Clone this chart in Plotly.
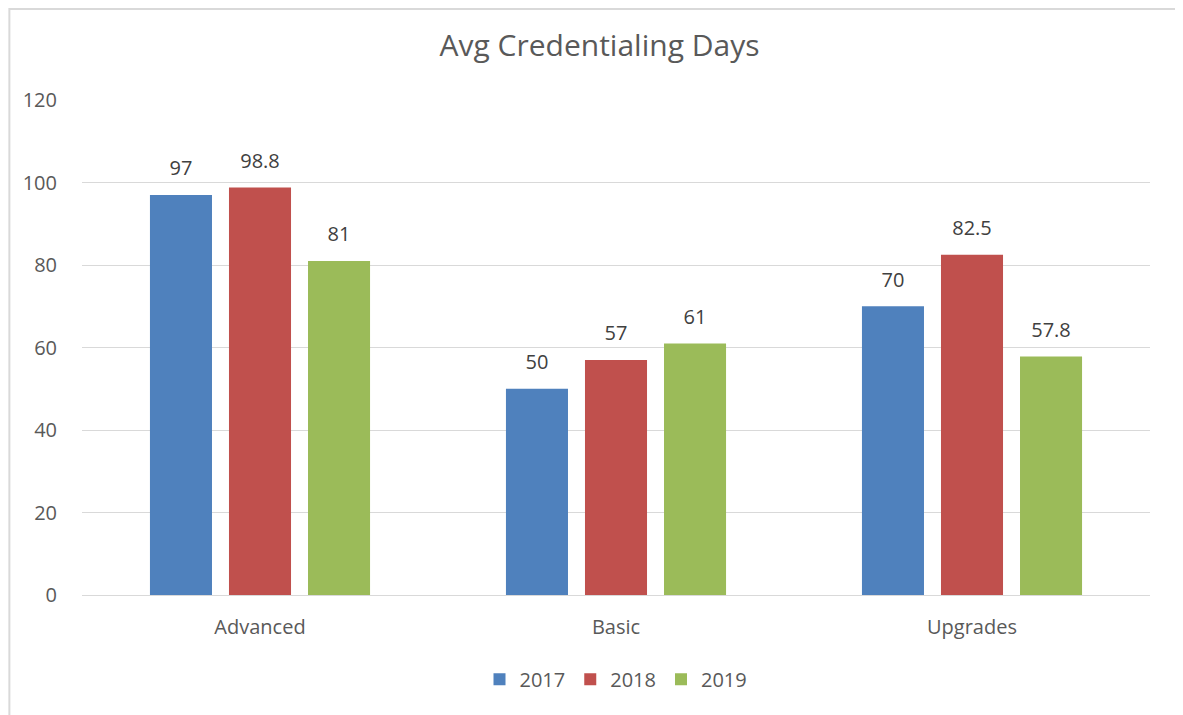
import plotly.graph_objects as go

# Data
categories = ["Advanced", "Basic", "Upgrades"]
years = ["2017", "2018", "2019"]
values_2017 = [97, 50, 70]
values_2018 = [98.8, 57, 82.5]
values_2019 = [81, 61, 57.8]
colors = ["#4F81BD", "#C0504D", "#9BBB59"]

series = [values_2017, values_2018, values_2019]

fig = go.Figure()
for year, vals, color in zip(years, series, colors):
    fig.add_trace(go.Bar(
        x=categories,
        y=vals,
        name=year,
        marker=dict(color=color, line=dict(width=0)),
    ))

# data labels as grouped scatter text so they sit a bit higher above the bars
for year, vals in zip(years, series):
    fig.add_trace(go.Scatter(
        x=categories,
        y=vals,
        mode="markers+text",
        marker=dict(size=22, opacity=0),
        text=[f"{v:g}" for v in vals],
        textposition="top center",
        textfont=dict(size=20, color="#404040"),
        showlegend=False,
        hoverinfo="skip",
        cliponaxis=False,
    ))

# page body has an 8px margin, so margins are shifted to compensate
fig.update_layout(
    title=dict(text="Avg Credentialing Days", x=0.5, xanchor="center", y=0.948,
               yanchor="middle", font=dict(size=30, color="#595959")),
    font=dict(family="Open Sans, Liberation Sans, sans-serif", color="#595959"),
    width=1183,
    height=715,
    margin=dict(l=74, r=41, t=92, b=128),
    plot_bgcolor="white",
    paper_bgcolor="white",
    barmode="group",
    bargap=0.334,
    bargroupgap=0.215,
    scattermode="group",
    scattergap=0.334,
    showlegend=True,
    legend=dict(orientation="h", x=0.5, xanchor="center", y=-0.17, yanchor="middle",
                font=dict(size=20, color="#595959"), traceorder="normal"),
    xaxis=dict(showline=True, linecolor="#D9D9D9", linewidth=1, ticks="",
               ticklabelstandoff=14, tickfont=dict(size=20, color="#595959")),
    yaxis=dict(range=[0, 120], dtick=20, showgrid=True, gridcolor="#D9D9D9",
               zeroline=False, ticks="", ticklabelstandoff=24,
               tickfont=dict(size=20, color="#595959")),
    shapes=[dict(type="rect", xref="paper", yref="paper", x0=-0.068, x1=1.026,
                 y0=-0.3, y1=1.184, line=dict(color="#D9D9D9", width=2))],
)

fig.write_html("out.html")
